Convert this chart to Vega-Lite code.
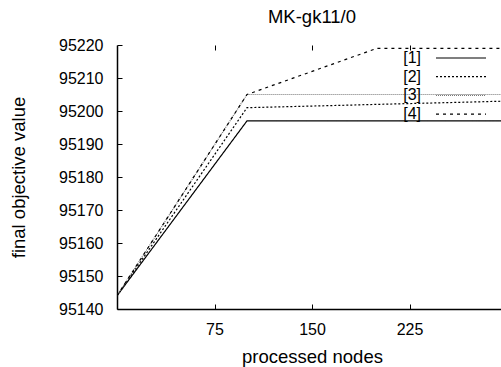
{
  "$schema": "https://vega.github.io/schema/vega-lite/v6.json",
  "width": 390,
  "height": 264,
  "autosize": "none",
  "padding": {"left": 117, "top": 45, "right": 0, "bottom": 58},
  "background": "white",
  "config": {
    "font": "Liberation Sans",
    "view": {"stroke": null},
    "axis": {"grid": false, "domainColor": "black", "tickColor": "black", "labelColor": "black", "titleColor": "black", "titleFontWeight": "normal"}
  },
  "title": {"text": "MK-gk11/0", "fontSize": 18.5, "fontWeight": "normal", "color": "black", "anchor": "middle", "baseline": "alphabetic", "frame": "group", "offset": -4},
  "data": {
    "values": [
      {"series": "[1]", "nodes": 0, "value": 95144},
      {"series": "[1]", "nodes": 100, "value": 95197},
      {"series": "[1]", "nodes": 300, "value": 95197},
      {"series": "[2]", "nodes": 0, "value": 95144},
      {"series": "[2]", "nodes": 100, "value": 95201},
      {"series": "[2]", "nodes": 300, "value": 95203},
      {"series": "[3]", "nodes": 0, "value": 95144},
      {"series": "[3]", "nodes": 100, "value": 95205},
      {"series": "[3]", "nodes": 300, "value": 95205},
      {"series": "[4]", "nodes": 0, "value": 95144},
      {"series": "[4]", "nodes": 100, "value": 95205},
      {"series": "[4]", "nodes": 200, "value": 95219},
      {"series": "[4]", "nodes": 300, "value": 95219}
    ]
  },
  "layer": [
    {
      "mark": {"type": "line", "strokeWidth": 1.2, "clip": true},
      "encoding": {
        "x": {"field": "nodes", "type": "quantitative", "scale": {"domain": [0, 300], "nice": false},
          "axis": {"orient": "bottom", "title": "processed nodes", "titleFontSize": 18.5, "titlePadding": 10, "values": [75, 150, 225], "tickSize": -5, "labelPadding": 17, "labelFontSize": 16, "domainWidth": 1.5, "labelFlush": false}},
        "y": {"field": "value", "type": "quantitative", "scale": {"domain": [95140, 95220], "nice": false, "zero": false},
          "axis": {"title": "final objective value", "titleFontSize": 18.5, "titlePadding": 30, "values": [95140, 95150, 95160, 95170, 95180, 95190, 95200, 95210, 95220], "tickSize": -5, "labelPadding": 19, "labelFontSize": 16, "domainWidth": 1.5, "format": "d", "labelFlush": false}},
        "color": {"field": "series", "type": "nominal", "scale": {"domain": ["[1]", "[2]", "[3]", "[4]"], "range": ["black", "black", "#777777", "black"]},
          "legend": {"orient": "none", "legendX": 306, "legendY": 5, "title": null, "symbolType": "M-5,0H5", "symbolSize": 100, "symbolStrokeWidth": 1.2, "symbolOffset": 30, "labelOffset": -48, "labelAlign": "right", "labelFontSize": 16, "labelColor": "black", "rowPadding": 2.7, "padding": 0,
            "encode": {"labels": {"update": {"align": {"value": "right"}}}}}},
        "strokeDash": {"field": "series", "type": "nominal", "scale": {"domain": ["[1]", "[2]", "[3]", "[4]"], "range": [[1, 0], [2, 2], [1, 1], [3, 4]]},
          "legend": {"orient": "none", "legendX": 306, "legendY": 5, "title": null, "symbolType": "M-5,0H5", "symbolSize": 100, "symbolStrokeWidth": 1.2, "symbolOffset": 30, "labelOffset": -48, "labelAlign": "right", "labelFontSize": 16, "labelColor": "black", "rowPadding": 2.7, "padding": 0,
            "encode": {"labels": {"update": {"align": {"value": "right"}}}}}}
      }
    },
    {
      "mark": {"type": "line", "opacity": 0},
      "encoding": {
        "x": {"field": "nodes", "type": "quantitative",
          "axis": {"orient": "top", "title": null, "labels": false, "domain": false, "values": [75, 150, 225], "tickSize": -5}},
        "y": {"field": "value", "type": "quantitative", "axis": null},
        "detail": {"field": "series"}
      }
    }
  ],
  "resolve": {"axis": {"x": "independent", "y": "independent"}}
}
